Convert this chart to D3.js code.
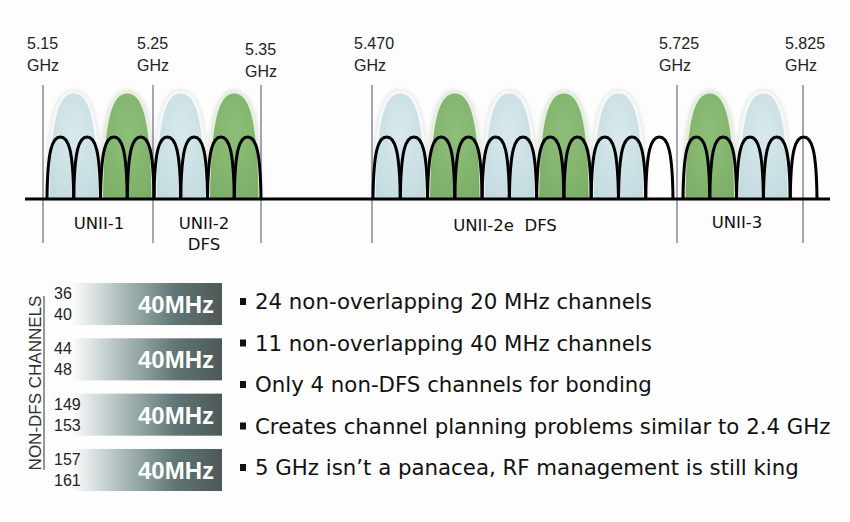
<!DOCTYPE html>
<html><head><meta charset="utf-8">
<script src="https://cdnjs.cloudflare.com/ajax/libs/d3/7.8.5/d3.min.js"></script>
<style>body{margin:0;background:#fdfdfd}svg{display:block}</style></head>
<body><svg id="c" width="850" height="522"></svg>
<script>
// Data
const unii1 = [36,40,44,48];
const unii2 = [52,56,60,64];
const unii2e = [100,104,108,112,116,120,124,128,132,136,140];
const unii3 = [149,153,157,161,165];
// 40 MHz bonded pairs: [first channel, colour]
const bonded = [[36,"b"],[44,"g"],[52,"b"],[60,"g"],[100,"b"],[108,"g"],[116,"b"],[124,"g"],[132,"b"],[149,"g"],[157,"b"]];
const freqMarks = ["5.15","5.25","5.35","5.470","5.725","5.825"];
const bands = [["UNII-1"],["UNII-2","DFS"],["UNII-2e  DFS"],["UNII-3"]];
const nonDfsPairs = [["36","40"],["44","48"],["149","153"],["157","161"]];
const bullets = ["24 non-overlapping 20 MHz channels","11 non-overlapping 40 MHz channels","Only 4 non-DFS channels for bonding","Creates channel planning problems similar to 2.4 GHz","5 GHz isn\u2019t a panacea, RF management is still king"];

const svg = d3.select("#c");
const defs = svg.append("defs");
const x = d3.scaleLinear().domain([36,68,100,144,149,169]).range([47,261,373,673,683,817]);
const fxPix = {"5.15":43,"5.25":153,"5.35":261,"5.470":372,"5.725":677,"5.825":803};
const y = d3.scaleLinear().domain([0,1]).range([199,137]);
const base = y(0);

function arc(x0,x1,top){
  const w=x1-x0, m=(x0+x1)/2;
  return `M${x0},${base} C${x0+w*0.02},${base-(base-top)*0.8} ${x0+w*0.2},${top} ${m},${top} C${x1-w*0.2},${top} ${x1-w*0.02},${base-(base-top)*0.8} ${x1},${base}`;
}
const gb = defs.append("radialGradient").attr("id","gb").attr("cx","50%").attr("cy","40%").attr("r","70%");
gb.append("stop").attr("offset","0%").attr("stop-color","#d8e9ec");
gb.append("stop").attr("offset","100%").attr("stop-color","#c3dbdf");
const gg = defs.append("radialGradient").attr("id","gg").attr("cx","50%").attr("cy","40%").attr("r","70%");
gg.append("stop").attr("offset","0%").attr("stop-color","#8dbf78");
gg.append("stop").attr("offset","100%").attr("stop-color","#7cae68");

const y40 = d3.scaleLinear().domain([0,1]).range([199,92]);
svg.append("g").selectAll("path").data(bonded).join("path")
  .attr("d",d=>arc(x(d[0])+1,x(d[0]+8)-1,y40(1)))
  .attr("fill",d=>d[1]==="b"?"url(#gb)":"url(#gg)")
  .attr("stroke",d=>d[1]==="b"?"#f4f8f8":"#e6f0e0").attr("stroke-width",3)
  .style("filter","drop-shadow(0 0 2px rgba(0,0,0,0.15))");

svg.append("g").selectAll("line").data(freqMarks).join("line")
  .attr("x1",d=>fxPix[d]).attr("x2",d=>fxPix[d]).attr("y1",85).attr("y2",243)
  .attr("stroke","#4a4f6a").attr("stroke-width",1);
const fl = svg.append("g").selectAll("text").data(freqMarks).join("text")
  .attr("font-family","Liberation Sans, Arial").attr("font-size",16).attr("fill","#222")
  .attr("x",d=>fxPix[d]-(d.length>4?18:16))
  .attr("y",d=>d==="5.35"?55:49);
fl.append("tspan").text(d=>d);
fl.append("tspan").attr("x",d=>fxPix[d]-(d.length>4?18:16)).attr("dy",22).text("GHz");

const chans = [...unii1,...unii2,...unii2e,...unii3];
svg.append("g").selectAll("path").data(chans).join("path")
  .attr("d",d=>arc(x(d),x(d+4),y(1)))
  .attr("fill","none").attr("stroke","#000").attr("stroke-width",3);

svg.append("line").attr("x1",25).attr("x2",830).attr("y1",base).attr("y2",base).attr("stroke","#000").attr("stroke-width",3);

const bandPos = [[99,229],[204,229],[505,231],[737,228]];
bands.forEach((b,i)=>{
  const t=svg.append("text").attr("font-family","DejaVu Sans, Tahoma").attr("font-size",16.5).attr("fill","#111")
    .attr("text-anchor","middle").attr("x",bandPos[i][0]).attr("y",bandPos[i][1]).attr("xml:space","preserve");
  b.forEach((s,j)=>t.append("tspan").attr("x",bandPos[i][0]).attr("dy",j?21:0).text(s));
});

const lg = defs.append("linearGradient").attr("id","bar");
lg.append("stop").attr("offset","0%").attr("stop-color","#ffffff");
lg.append("stop").attr("offset","40%").attr("stop-color","#9fb0b0");
lg.append("stop").attr("offset","70%").attr("stop-color","#5f7474");
lg.append("stop").attr("offset","100%").attr("stop-color","#4f5858");
const by = d3.scaleBand().domain(d3.range(nonDfsPairs.length)).range([283,491]).paddingInner(0.24);
const bg = svg.append("g").selectAll("g").data(nonDfsPairs).join("g").attr("transform",(d,i)=>`translate(0,${by(i)})`);
bg.append("rect").attr("x",70).attr("width",152).attr("height",by.bandwidth()).attr("fill","url(#bar)");
bg.append("text").attr("x",214).attr("y",by.bandwidth()/2+9).attr("text-anchor","end")
  .attr("font-family","Liberation Sans, Arial").attr("font-weight","bold").attr("font-size",24).attr("fill","#fff").text("40MHz");
bg.append("text").attr("x",54).attr("y",16).attr("font-family","Liberation Sans, Arial").attr("font-size",16).attr("fill","#222").text(d=>d[0]);
bg.append("text").attr("x",54).attr("y",37).attr("font-family","Liberation Sans, Arial").attr("font-size",16).attr("fill","#222").text(d=>d[1]);
svg.append("text").attr("transform","translate(41,383) rotate(-90)").attr("text-anchor","middle")
  .attr("font-family","Liberation Sans, Arial").attr("font-size",17).attr("fill","#333").text("NON-DFS CHANNELS");
svg.append("line").attr("x1",44).attr("x2",44).attr("y1",296).attr("y2",470).attr("stroke","#333");

const bly = d3.scalePoint().domain(d3.range(bullets.length)).range([309,475]);
const bl = svg.append("g").selectAll("g").data(bullets).join("g").attr("transform",(d,i)=>`translate(0,${bly(i)})`);
bl.append("rect").attr("x",240).attr("y",-11).attr("width",6).attr("height",7).attr("fill","#111");
bl.append("text").attr("x",255).attr("font-family","DejaVu Sans, Verdana").attr("font-size",21.3).attr("fill","#111").text(d=>d);
</script></body></html>
